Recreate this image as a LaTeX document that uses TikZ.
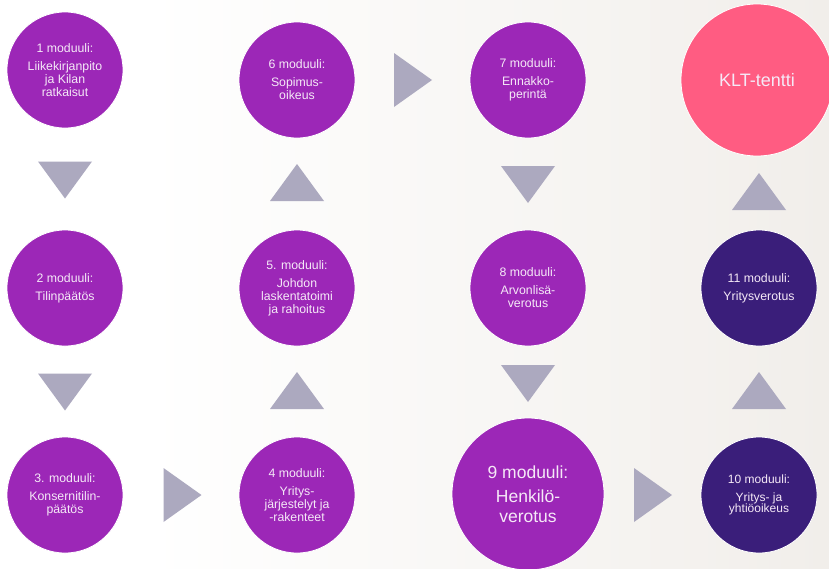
\documentclass[tikz,border=0pt]{standalone}
\usepackage{fontspec}
\setmainfont{Liberation Sans}
\definecolor{modpurple}{HTML}{9C27B7}
\definecolor{moddark}{HTML}{3A1E7A}
\definecolor{exampink}{HTML}{FF5C82}
\definecolor{trigray}{HTML}{ACA9BF}
\definecolor{txtlight}{HTML}{F5E9F7}
\definecolor{bgwarm}{HTML}{F1EEEA}
\begin{document}
\begin{tikzpicture}[x=1pt,y=-1pt,
  modbase/.style={circle, draw=white, line width=0.8pt, text=txtlight, align=center,
    inner sep=0pt, font=\fontsize{12.3}{13}\selectfont},
  module/.style={modbase, fill=modpurple, minimum size=116pt},
  bigmodule/.style={modbase, fill=modpurple, minimum size=152pt, font=\fontsize{17.5}{19.5}\selectfont},
  darkmodule/.style={modbase, fill=moddark, minimum size=116pt},
  exam/.style={modbase, fill=exampink, minimum size=152pt, font=\fontsize{18}{20}\selectfont},
  tri/.style={fill=trigray},
  tridown/.pic={\fill[tri] (-27,-18.5) -- (27,-18.5) -- (0,18.5) -- cycle;},
  triup/.pic={\fill[tri] (-27,18.5) -- (27,18.5) -- (0,-18.5) -- cycle;},
  triright/.pic={\fill[tri] (-19,-27) -- (-19,27) -- (19,0) -- cycle;}
]
% canvas and background
\useasboundingbox (0,0) rectangle (829,568);
\fill[white] (0,0) rectangle (829,568);
\shade[left color=white!98!bgwarm, right color=bgwarm] (163,0) rectangle (829,568);

% modules
\node[module] (m1) at (65,70) {1 moduuli:\\[5pt]Liikekirjanpito\\ja Kilan\\ratkaisut};
\node[module] (m2) at (65,288) {2 moduuli:\\[5pt]Tilinpäätös};
\node[module] (m3) at (65,495) {3. moduuli:\\[5pt]Konsernitilin-\\päätös};
\node[module] (m4) at (297,495) {4 moduuli:\\[5pt]Yritys-\\järjestelyt ja\\-rakenteet};
\node[module] (m5) at (297,288) {5. moduuli:\\[5pt]Johdon\\laskentatoimi\\ja rahoitus};
\node[module] (m6) at (297,80) {6 moduuli:\\[5pt]Sopimus-\\oikeus};
\node[module] (m7) at (528,80) {7 moduuli:\\[5pt]Ennakko-\\perintä};
\node[module] (m8) at (528,288) {8 moduuli:\\[5pt]Arvonlisä-\\verotus};
\node[bigmodule] (m9) at (528,494) {9 moduuli:\\[5pt]Henkilö-\\verotus};
\node[darkmodule, font=\fontsize{12}{11.5}\selectfont] (m10) at (759,495) {10 moduuli:\\[6pt]Yritys- ja\\yhtiöoikeus};
\node[darkmodule] (m11) at (759,288) {11 moduuli:\\[5pt]Yritysverotus};
\node[exam] (klt) at (757,80) {KLT-tentti};

% flow markers between modules
\pic at (65,180) {tridown};
\pic at (65,392) {tridown};
\pic at (182.5,495) {triright};
\pic at (297,390.5) {triup};
\pic at (297,182.5) {triup};
\pic at (413,80) {triright};
\pic at (528,184.5) {tridown};
\pic at (528,383.5) {tridown};
\pic at (653,495) {triright};
\pic at (759,390.5) {triup};
\pic at (759,191.5) {triup};
\end{tikzpicture}
\end{document}
